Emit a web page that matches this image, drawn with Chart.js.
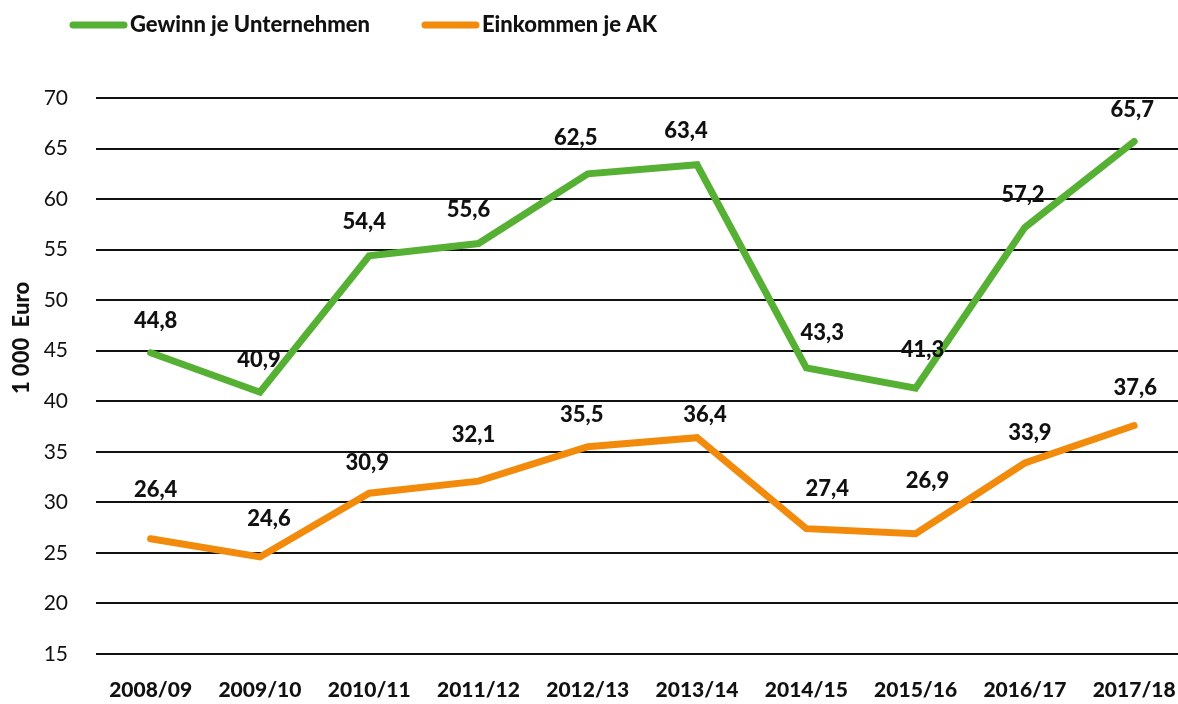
<!DOCTYPE html>
<html><head><meta charset="utf-8">
<script src="https://cdn.jsdelivr.net/npm/chart.js@4/dist/chart.umd.min.js"></script>
<style>
html,body{margin:0;padding:0;background:#fff;overflow:hidden;width:1178px;height:704px}
#wrap{position:absolute;left:0;top:0;width:1200px;height:704px}
canvas{display:block}
</style></head>
<body>
<div id="wrap"><canvas id="c" width="1200" height="704"></canvas></div>
<script>
const categories = ['2008/09','2009/10','2010/11','2011/12','2012/13','2013/14','2014/15','2015/16','2016/17','2017/18'];
const gewinn = [44.8, 40.9, 54.4, 55.6, 62.5, 63.4, 43.3, 41.3, 57.2, 65.7];
const einkommen = [26.4, 24.6, 30.9, 32.1, 35.5, 36.4, 27.4, 26.9, 33.9, 37.6];
const seriesNames = ['Gewinn je Unternehmen', 'Einkommen je AK'];
const yTicks = [15, 20, 25, 30, 35, 40, 45, 50, 55, 60, 65, 70];

const FONT = 'Lato, "Noto Sans", sans-serif';
const GREEN = '#55b034';
const ORANGE = '#f28a0c';
const HEAVY = '900';

// label offsets (dx, dy) relative to point
const labelOffsets = [
  [[5,-32],[-1,-32],[-5,-34],[-10,-34],[-12,-36],[-11,-34],[16,-35],[7,-38],[-2,-32],[-2,-32]],
  [[5,-49],[9,-38],[-2,-30],[-5,-46],[-6,-32],[8,-23],[21,-40],[12,-53],[5,-30],[1,-38]]
];

const labelPlugin = {
  id: 'valueLabels',
  afterDatasetsDraw(chart) {
    const ctx = chart.ctx;
    ctx.save();
    ctx.font = HEAVY + ' 22px ' + FONT;
    ctx.fillStyle = '#111';
    ctx.textAlign = 'center';
    ctx.textBaseline = 'middle';
    chart.data.datasets.forEach((ds, di) => {
      const meta = chart.getDatasetMeta(di);
      meta.data.forEach((pt, i) => {
        const off = labelOffsets[di][i];
        const txt = ds.data[i].toFixed(1).replace('.', ',');
        ctx.fillText(txt, pt.x + off[0], pt.y + off[1]);
      });
    });
    ctx.restore();
  }
};

const legendPlugin = {
  id: 'customLegend',
  afterDraw(chart) {
    const ctx = chart.ctx;
    ctx.save();
    const starts = [70, 422];
    chart.data.datasets.forEach((ds, i) => {
      const x = starts[i], y = 25;
      ctx.strokeStyle = ds.borderColor;
      ctx.lineWidth = 7;
      ctx.lineCap = 'round';
      ctx.beginPath();
      ctx.moveTo(x + 3, y);
      ctx.lineTo(x + 54, y);
      ctx.stroke();
      ctx.font = HEAVY + ' 22px ' + FONT;
      ctx.fillStyle = '#111';
      ctx.textAlign = 'left';
      ctx.textBaseline = 'middle';
      ctx.fillText(ds.label, x + 60, y);
    });
    // y axis title
    ctx.translate(22, 338);
    ctx.rotate(-Math.PI / 2);
    ctx.font = HEAVY + ' 22px ' + FONT;
    ctx.textAlign = 'center';
    ctx.textBaseline = 'middle';
    ctx.fillText('1 000  Euro', 0, 0);
    ctx.restore();
  }
};

new Chart(document.getElementById('c'), {
  type: 'line',
  data: {
    labels: categories,
    datasets: [
      { label: seriesNames[0], data: gewinn, borderColor: GREEN, backgroundColor: GREEN, borderWidth: 7, pointRadius: 0, tension: 0, borderCapStyle: 'round', borderJoinStyle: 'miter' },
      { label: seriesNames[1], data: einkommen, borderColor: ORANGE, backgroundColor: ORANGE, borderWidth: 7, pointRadius: 0, tension: 0, borderCapStyle: 'round', borderJoinStyle: 'miter' }
    ]
  },
  options: {
    responsive: false,
    animation: false,
    layout: { padding: { top: 98, left: 0, right: 7, bottom: 0 } },
    plugins: { legend: { display: false }, tooltip: { enabled: false } },
    scales: {
      x: {
        offset: true,
        afterFit(scale) { scale.height = 50; },
        grid: { display: false, drawTicks: false },
        border: { display: false },
        ticks: { font: { family: FONT, size: 21, weight: HEAVY }, color: '#111', padding: 24, maxRotation: 0, autoSkip: false }
      },
      y: {
        min: 15, max: 70,
        afterBuildTicks(scale) { scale.ticks = yTicks.map(v => ({ value: v })); },
        afterFit(scale) { scale.width = 96; },
        grid: { color: '#111', lineWidth: 2, drawTicks: false },
        border: { display: false },
        ticks: { font: { family: FONT, size: 21 }, color: '#111', padding: 28 }
      }
    }
  },
  plugins: [labelPlugin, legendPlugin]
});
</script>
</body></html>
